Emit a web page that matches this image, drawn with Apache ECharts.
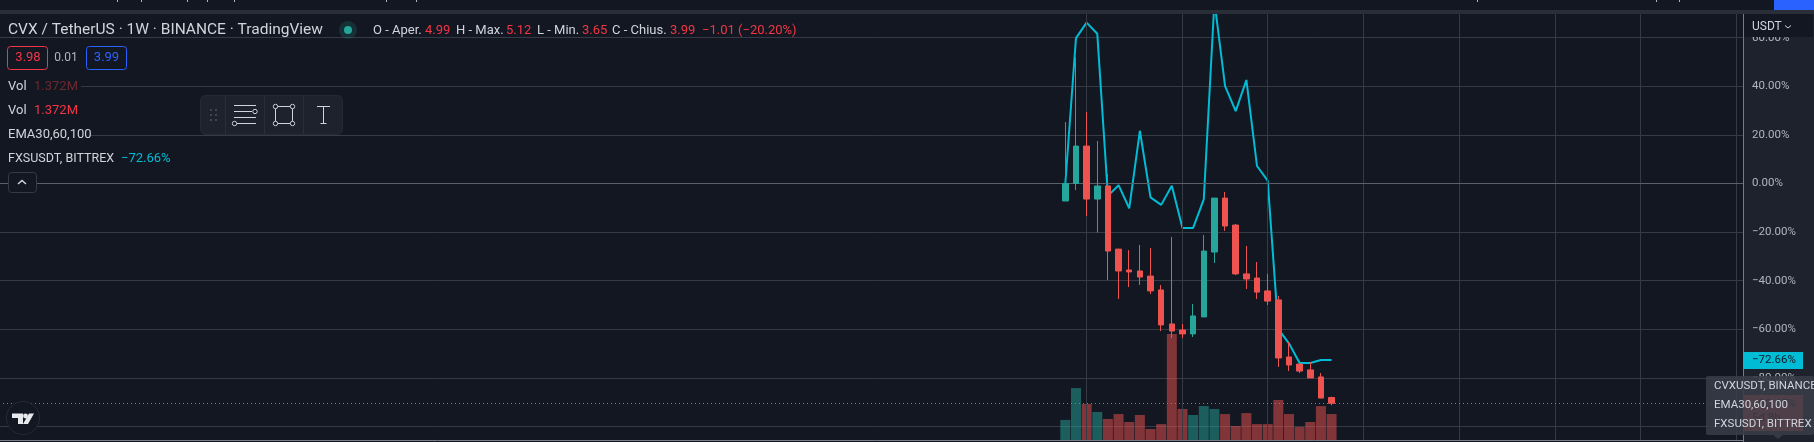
<!DOCTYPE html>
<html>
<head>
<meta charset="utf-8">
<title>CVX / TetherUS 1W</title>
<script src="https://cdn.jsdelivr.net/npm/echarts@6/dist/echarts.min.js"></script>
<style>html,body{margin:0;padding:0;background:#131722}#chart{width:1814px;height:442px}</style>
</head>
<body>
<div id="chart"></div>
<script>
// Weekly CVX candles, rebased in percent on the first close.
const weekOpen  = [-7.2, 0, 15.4, -6.4, -1.0, -27.0, -35.6, -36.0, -38.1, -43.8, -57.8, -60.3, -61.9, -54.9, -28.2, -6.0, -17.1, -37.2, -38.9, -44.2, -47.9, -71.4, -74.3, -76.7, -79.6];
const weekClose = [0, 15.4, -6.4, -1.0, -27.8, -36.0, -36.4, -38.5, -44.2, -58.2, -60.7, -61.9, -54.5, -27.8, -6.0, -17.5, -37.2, -39.3, -44.7, -48.4, -71.8, -74.7, -77.2, -80.0, -88.3];
const weekLow   = [-7.2, -2.7, -13.4, -20.2, -39.7, -47.5, -42.6, -41.8, -45.5, -60.7, -63.6, -63.6, -63.2, -54.9, -32.7, -19.5, -37.7, -43.4, -47.5, -50.0, -75.5, -77.2, -78.0, -80.0, -88.3];
const weekHigh  = [25.3, 51.9, 29.4, 17.5, 3.9, -27.0, -27.4, -25.3, -26.5, -41.8, -22.0, -57.8, -49.6, -21.2, -6.0, -3.5, -16.7, -25.7, -32.3, -37.2, -46.3, -65.2, -73.0, -73.5, -78.0];

// Current week in USDT, as quoted in the header.
const basePrice = 41.8;
const lastOpen = 4.99, lastHigh = 5.12, lastLow = 3.65, lastClose = 3.99;

// FXSUSDT comparison line, percent.
const fxsLine = [0, 59.8, 66.2, 61.6, -5.1, -0.7, -10.2, 21.7, -5.7, -8.8, -0.9, -18.3, -18.3, -6.5, 75.0, 40.1, 29.8, 42.6, 7.2, 1.2, -59.9, -65.8, -73.9, -73.9, -72.6, -72.66];

// Volume, millions of CVX.
const volumeM = [1.06, 2.74, 1.90, 1.48, 1.11, 1.37, 0.95, 1.32, 0.58, 0.84, 5.59, 1.64, 1.32, 1.79, 1.64, 1.37, 0.74, 1.42, 0.84, 0.84, 2.11, 1.37, 0.69, 0.95, 1.79, 1.372];

const leadSlots = 100, totalSlots = 165;
const monthWeeks = [2, 11, 19, 28, 37, 46, 54, 63];
const axisPercentTicks = { min: -120, max: 80, step: 20 };

const BG = '#131722', UP = '#26a69a', DOWN = '#ef5350', CYAN = '#00bcd4';
const TXT = '#d1d4dc', RED = '#f23645', GRID = '#363a45';
const FONT = 'Roboto, sans-serif';

const toPct = p => (p / basePrice - 1) * 100;
const signed = v => (v < 0 ? '\u2212' : '') + Math.abs(v).toFixed(2) + '%';

const slotNames = Array.from({ length: totalSlots }, (_, i) => 'W' + (i - leadSlots));
const pad = Array(leadSlots).fill('-');

const opens  = weekOpen.concat(toPct(lastOpen));
const closes = weekClose.concat(toPct(lastClose));
const lows   = weekLow.concat(toPct(lastLow));
const highs  = weekHigh.concat(toPct(lastHigh));

const candleData = pad.map(() => ['-', '-', '-', '-'])
  .concat(opens.map((o, i) => [o, closes[i], lows[i], highs[i]]));
const volumeData = pad.concat(volumeM.map((v, i) => ({
  value: v,
  itemStyle: { color: closes[i] >= opens[i] ? UP : DOWN, opacity: 0.5 }
})));

// Drawing helpers for the header, toolbar and price-scale furniture.
const txt = (x, y, text, fill, size, z, extra) => ({
  type: 'text', z: z || 30, silent: true,
  style: Object.assign({ x, y, text, fill, font: (size || 13) + 'px ' + FONT, textVerticalAlign: 'middle' }, extra || {})
});
const box = (x, y, width, height, fill, z, stroke, r) => ({
  type: 'rect', z: z || 29, silent: true,
  shape: { x, y, width, height, r: r || 0 },
  style: { fill, stroke: stroke || null, lineWidth: stroke ? 1 : 0 }
});
const seg = (x1, y1, x2, y2, stroke, z) => ({
  type: 'line', z: z || 30, silent: true,
  shape: { x1, y1, x2, y2 }, style: { stroke, lineWidth: 1 }
});
const dot = (cx, cy, r, stroke, fill, z) => ({
  type: 'circle', z: z || 31, silent: true,
  shape: { cx, cy, r }, style: { stroke: stroke || null, fill: fill || BG, lineWidth: stroke ? 1 : 0 }
});

const furniture = [
  // top strip
  box(0, 0, 1814, 10, BG, 20),
  box(0, 10, 1814, 4, '#2a2e39', 20),
  box(1774, 0, 40, 10, '#2962ff', 21),
  // price scale
  box(1744, 14, 70, 428, '#1e222d', 6),
  box(1744, 14, 69, 23, BG, 8),
  txt(1752, 27, 'USDT', TXT, 12, 9),
  { type: 'polyline', z: 9, silent: true, shape: { points: [[1785, 25.5], [1788, 28], [1791, 25.5]] }, style: { stroke: TXT, fill: null, lineWidth: 1 } },
  box(1743, 352, 60, 17, CYAN, 8),
  txt(1752, 360.5, signed(fxsLine[fxsLine.length - 1]), BG, 11.5, 9),
  box(1743, 395, 60, 36, DOWN, 8),
  txt(1752, 404, signed(toPct(lastClose)), BG, 11.5, 9),
  txt(1752, 418, '5d 8h', BG, 11.5, 9),
  // pane list popup over the scale
  { type: 'rect', z: 10, silent: true, shape: { x: 1706, y: 376, width: 108, height: 59, r: 2 }, style: { fill: 'rgba(56,60,72,0.88)' } },
  { type: 'polygon', z: 10, silent: true, shape: { points: [[1773, 435], [1783, 435], [1778, 439]] }, style: { fill: 'rgba(56,60,72,0.88)' } },
  txt(1714, 386, 'CVXUSDT, BINANCE', TXT, 11.5, 11),
  txt(1714, 405, 'EMA30,60,100', TXT, 11.5, 11),
  txt(1714, 424, 'FXSUSDT, BITTREX', TXT, 11.5, 11),
  // legend
  txt(8, 30, 'CVX / TetherUS \u00b7 1W \u00b7 BINANCE \u00b7 TradingView', TXT, 15.5),
  dot(348, 30, 9, null, 'rgba(38,166,154,0.18)'),
  dot(348, 30, 4, null, UP, 32),
  txt(373, 31, 'O - Aper.', TXT), txt(425, 31, lastOpen.toFixed(2), RED),
  txt(456, 31, 'H - Max.', TXT), txt(506, 31, lastHigh.toFixed(2), RED),
  txt(537, 31, 'L - Min.', TXT), txt(582, 31, lastLow.toFixed(2), RED),
  txt(612, 31, 'C - Chius.', TXT), txt(670, 31, lastClose.toFixed(2), RED),
  txt(702, 31, '\u22121.01 (\u221220.20%)', RED),
  box(7.5, 46.5, 40, 23, BG, 29, RED, 3),
  txt(28, 58, '3.98', RED, 13, 30, { textAlign: 'center' }),
  txt(66, 58, '0.01', '#b2b5be', 12, 30, { textAlign: 'center' }),
  box(86.5, 46.5, 40, 23, BG, 29, '#2962ff', 3),
  txt(106.5, 58, '3.99', '#2962ff', 13, 30, { textAlign: 'center' }),
  box(0, 77, 81, 18, BG, 28),
  txt(8, 86.5, 'Vol', TXT), txt(34, 86.5, '1.372M', '#6b2a30'),
  txt(8, 110.5, 'Vol', TXT), txt(34, 110.5, '1.372M', RED),
  box(0, 125, 90, 18, BG, 28),
  txt(8, 134.5, 'EMA30,60,100', TXT),
  txt(8, 158.5, 'FXSUSDT, BITTREX', TXT, 12.5), txt(121, 158.5, '\u221272.66%', CYAN),
  box(8.5, 172.5, 28, 20, BG, 29, GRID, 3),
  { type: 'polyline', z: 30, silent: true, shape: { points: [[18, 184], [22, 180.5], [26, 184]] }, style: { stroke: TXT, fill: null, lineWidth: 1.5 } },
  // drawing toolbar
  box(200.5, 95.5, 142, 39, '#1e222d', 29, '#262a35', 5),
  seg(225.5, 96, 225.5, 134, '#2a2e39'), seg(264.5, 96, 264.5, 134, '#2a2e39'), seg(303.5, 96, 303.5, 134, '#2a2e39'),
  dot(211, 110, 1, null, '#50535e'), dot(216, 110, 1, null, '#50535e'),
  dot(211, 115, 1, null, '#50535e'), dot(216, 115, 1, null, '#50535e'),
  dot(211, 120, 1, null, '#50535e'), dot(216, 120, 1, null, '#50535e'),
  seg(234, 105.5, 256, 105.5, TXT), seg(234, 111.5, 252, 111.5, TXT), seg(234, 117.5, 256, 117.5, TXT), seg(237, 123.5, 256, 123.5, TXT),
  dot(255, 111.5, 2.2, TXT), dot(234.5, 123.5, 2.2, TXT),
  { type: 'rect', z: 30, silent: true, shape: { x: 275.5, y: 106.5, width: 17, height: 17 }, style: { fill: null, stroke: TXT, lineWidth: 1 } },
  dot(275.5, 106.5, 2.2, TXT), dot(292.5, 106.5, 2.2, TXT), dot(275.5, 123.5, 2.2, TXT), dot(292.5, 123.5, 2.2, TXT),
  seg(317, 106.5, 330, 106.5, TXT), seg(323.5, 106.5, 323.5, 123.5, TXT), seg(320.5, 123.5, 326.5, 123.5, TXT),
  // logo badge
  { type: 'circle', z: 30, silent: true, shape: { cx: 23, cy: 418, r: 16.5 }, style: { fill: BG, stroke: '#262a35', lineWidth: 1 } },
  { type: 'polygon', z: 31, silent: true, shape: { points: [[12, 413.5], [23, 413.5], [23, 424], [18, 424], [18, 418], [12, 418]] }, style: { fill: '#e8e9ec' } },
  { type: 'circle', z: 31, silent: true, shape: { cx: 25.5, cy: 416, r: 2.4 }, style: { fill: '#e8e9ec' } },
  { type: 'polygon', z: 31, silent: true, shape: { points: [[29, 413.5], [34, 413.5], [28, 424], [23, 424]] }, style: { fill: '#e8e9ec' } }
];
[117, 141, 187, 207, 234, 386, 416, 1477, 1656, 1679].forEach(x => furniture.push(box(x, 0, 1, 2, '#aeb1ba', 21)));

const gridLeft = -5, gridWidth = 1757.25;
const chart = echarts.init(document.getElementById('chart'), null, { renderer: 'canvas' });
chart.setOption({
  animation: false,
  backgroundColor: BG,
  graphic: { elements: furniture },
  grid: [
    { left: gridLeft, width: gridWidth, top: -10.9, height: 486, outerBoundsMode: 'none' },
    { left: gridLeft, width: gridWidth, top: 14, height: 426, outerBoundsMode: 'none' }
  ],
  xAxis: [
    { type: 'category', gridIndex: 0, data: slotNames, show: false },
    { type: 'category', gridIndex: 1, data: slotNames,
      axisLine: { show: true, lineStyle: { color: '#787b86', width: 1 } },
      axisTick: { show: false }, axisLabel: { show: false }, splitLine: { show: false } }
  ],
  yAxis: [
    { type: 'value', gridIndex: 0, position: 'right', min: axisPercentTicks.min, max: axisPercentTicks.max, interval: axisPercentTicks.step,
      axisLine: { show: false }, axisTick: { show: false }, axisLabel: { show: false },
      splitLine: { show: true, lineStyle: { color: GRID, width: 1 } } },
    { type: 'value', gridIndex: 1, min: 0, max: 22.48, show: false, splitLine: { show: false } },
    { type: 'value', gridIndex: 0, position: 'right', offset: -9.25, z: 7, min: axisPercentTicks.min, max: axisPercentTicks.max, interval: axisPercentTicks.step,
      axisLine: { show: true, lineStyle: { color: '#787b86', width: 1 } }, axisTick: { show: false },
      axisLabel: { color: '#b2b5be', fontSize: 11.5, fontFamily: FONT, margin: 9, formatter: signed },
      splitLine: { show: false } }
  ],
  series: [
    { type: 'line', name: 'guides', xAxisIndex: 1, yAxisIndex: 1, data: [], z: 1, silent: true,
      markLine: { silent: true, symbol: 'none', animation: false, label: { show: false },
        lineStyle: { color: GRID, width: 1, type: 'solid' },
        data: monthWeeks.map(w => ({ xAxis: slotNames[leadSlots + w] })) } },
    { type: 'line', name: 'levels', xAxisIndex: 0, yAxisIndex: 0, data: [], z: 3, silent: true,
      markLine: { silent: true, symbol: 'none', animation: false, label: { show: false },
        data: [
          { yAxis: 0, lineStyle: { color: '#5d606b', width: 1, type: 'solid' } },
          { yAxis: toPct(lastClose), lineStyle: { color: DOWN, width: 1, type: [1, 3] } }
        ] } },
    { type: 'bar', name: 'Vol', xAxisIndex: 1, yAxisIndex: 1, data: volumeData, barWidth: 10, z: 2, silent: true },
    { type: 'line', name: 'FXSUSDT, BITTREX', xAxisIndex: 0, yAxisIndex: 0, data: pad.concat(fxsLine),
      showSymbol: false, symbol: 'none', z: 4, silent: true, lineStyle: { color: CYAN, width: 2 } },
    { type: 'candlestick', name: 'CVXUSDT', xAxisIndex: 0, yAxisIndex: 0, data: candleData, barWidth: 6, z: 5, silent: true,
      itemStyle: { color: UP, color0: DOWN, borderColor: UP, borderColor0: DOWN, borderWidth: 1 } }
  ]
});
</script>
</body>
</html>
